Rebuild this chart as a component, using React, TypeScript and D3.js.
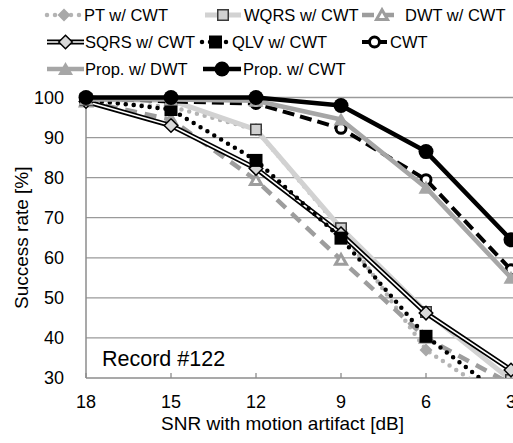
import React from "react";
import * as d3 from "d3";

// SNR levels (dB) on the x axis
const snrLevels = [18, 15, 12, 9, 6, 3];
const yTicks = [30, 40, 50, 60, 70, 80, 90, 100];

// Success rate [%] for each detector at each SNR level
const ptCwt = [99, 97.7, 92, 67, 37, 23];
const wqrsCwt = [99.5, 99.3, 92, 67.4, 46.5, 29.5];
const dwtCwt = [99, 94.5, 79.4, 59.5, 40, 28.5];
const sqrsCwt = [99, 93, 82.3, 66, 46.2, 32];
const qlvCwt = [99.5, 97, 84.3, 64.9, 40.4, 24];
const cwtOnly = [100, 99, 98.5, 92.3, 79.5, 57];
const propDwt = [99.5, 99.5, 99.2, 94.5, 77.5, 55];
const propCwt = [100, 100, 100, 98, 86.5, 64.5];

const seriesNames = [
  "PT w/ CWT",
  "WQRS w/ CWT",
  "DWT w/ CWT",
  "SQRS w/ CWT",
  "QLV w/ CWT",
  "CWT",
  "Prop. w/ DWT",
  "Prop. w/ CWT",
];
const seriesValues = [ptCwt, wqrsCwt, dwtCwt, sqrsCwt, qlvCwt, cwtOnly, propDwt, propCwt];

type Style = {
  stroke: string;
  width: number;
  dash?: string;
  cap?: "round" | "butt";
  double?: boolean;
  marker: "diamond" | "square" | "triangle" | "circle";
  size: number;
  fill: string;
  mStroke?: string;
  mWidth?: number;
};

const styles: Style[] = [
  { stroke: "#b4b4b4", width: 4.5, dash: "0 8", cap: "round", marker: "diamond", size: 13, fill: "#a8a8a8" },
  { stroke: "#d2d2d2", width: 5, marker: "square", size: 12, fill: "#d0d0d0", mStroke: "#3a3a3a", mWidth: 1.5 },
  { stroke: "#9d9d9d", width: 4.5, dash: "12 8", marker: "triangle", size: 14, fill: "#ffffff", mStroke: "#9d9d9d", mWidth: 3 },
  { stroke: "#000000", width: 5, double: true, marker: "diamond", size: 15, fill: "#d9d9d9", mStroke: "#000000", mWidth: 1.5 },
  { stroke: "#000000", width: 4.5, dash: "0 8", cap: "round", marker: "square", size: 13, fill: "#000000" },
  { stroke: "#000000", width: 4, dash: "12 6", marker: "circle", size: 13, fill: "#ffffff", mStroke: "#000000", mWidth: 3 },
  { stroke: "#a6a6a6", width: 4.5, marker: "triangle", size: 15, fill: "#a6a6a6" },
  { stroke: "#000000", width: 4.5, marker: "circle", size: 15, fill: "#000000" },
];

// legend entries: [line start x, line end x, text x, row y]
const legendSlots: [number, number, number, number][] = [
  [47, 81, 84, 15], [205, 241, 244, 15], [362, 402, 405, 15],
  [47, 84, 85, 42], [202, 229, 232, 42], [362, 387, 390, 42],
  [47, 84, 85, 69], [203, 241, 243, 69],
];

const FONT = "Liberation Sans, Arial, sans-serif";

const plot = { left: 86, right: 511, top: 97.5, bottom: 378 };
const x = d3.scaleLinear().domain([18, 3]).range([plot.left, plot.right]);
const y = d3.scaleLinear().domain([30, 100]).range([plot.bottom, plot.top]);

function markerPath(kind: Style["marker"], s: number): string {
  const h = s / 2;
  if (kind === "diamond") return `M0,${-h}L${h},0L0,${h}L${-h},0Z`;
  if (kind === "square") return `M${-h},${-h}H${h}V${h}H${-h}Z`;
  return `M0,${-h * 0.95}L${h},${h * 0.8}L${-h},${h * 0.8}Z`;
}

function Marker({ st, cx, cy }: { st: Style; cx: number; cy: number }) {
  if (st.marker === "circle") {
    return (
      <circle cx={cx} cy={cy} r={st.size / 2 - (st.mWidth ? st.mWidth / 2 : 0)} fill={st.fill}
        stroke={st.mStroke ?? "none"} strokeWidth={st.mWidth ?? 0} />
    );
  }
  const inset = st.mWidth ? st.mWidth / 2 : 0;
  return (
    <path d={markerPath(st.marker, st.size - inset * 2)} transform={`translate(${cx},${cy})`}
      fill={st.fill} stroke={st.mStroke ?? "none"} strokeWidth={st.mWidth ?? 0} strokeLinejoin="miter" />
  );
}

function SeriesLine({ st, d }: { st: Style; d: string }) {
  return (
    <g fill="none" strokeLinejoin="round">
      <path d={d} stroke={st.stroke} strokeWidth={st.width} strokeDasharray={st.dash}
        strokeLinecap={st.cap ?? "butt"} />
      {st.double && <path d={d} stroke="#ffffff" strokeWidth={1.6} />}
    </g>
  );
}

export default function App() {
  const line = d3.line<number>().x((_, i) => x(snrLevels[i])).y((v) => y(v));

  return (
    <svg width={513} height={443} style={{ position: "absolute", left: 0, top: 0 }}
      fontFamily={FONT}>
      <defs>
        <clipPath id="plotClip">
          <rect x={0} y={0} width={513} height={plot.bottom} />
        </clipPath>
      </defs>
      <rect width={513} height={443} fill="#ffffff" />

      {/* horizontal gridlines */}
      {yTicks.slice(1).map((t) => (
        <line key={t} x1={plot.left} x2={513} y1={y(t)} y2={y(t)} stroke="#9a9a9a" strokeWidth={1.3} />
      ))}

      {/* axes */}
      <line x1={plot.left} x2={plot.left} y1={plot.top} y2={plot.bottom} stroke="#8c8c8c" strokeWidth={1.5} />
      <line x1={plot.left} x2={513} y1={plot.bottom} y2={plot.bottom} stroke="#8c8c8c" strokeWidth={1.5} />
      {snrLevels.map((s) => (
        <line key={s} x1={x(s)} x2={x(s)} y1={plot.bottom - 5} y2={plot.bottom} stroke="#8c8c8c" strokeWidth={1.3} />
      ))}

      {/* y tick labels */}
      {yTicks.map((t) => (
        <text key={t} x={64} y={y(t)} dy="0.36em" textAnchor="end" fontSize={18} fill="#000">{t}</text>
      ))}
      {/* x tick labels */}
      {snrLevels.map((s) => (
        <text key={s} x={x(s)} y={408} textAnchor="middle" fontSize={18} fill="#000">{s}</text>
      ))}

      <text x={(plot.left + plot.right) / 2 - 16} y={430} textAnchor="middle" fontSize={19}>
        SNR with motion artifact [dB]
      </text>
      <text transform={`translate(28,${(plot.top + plot.bottom) / 2}) rotate(-90)`} textAnchor="middle" fontSize={19}>
        Success rate [%]
      </text>

      <text x={102} y={366} fontSize={21.5}>Record #122</text>

      {/* series */}
      <g clipPath="url(#plotClip)">
        {seriesValues.map((vals, si) => {
          const st = styles[si];
          return (
            <g key={si}>
              <SeriesLine st={st} d={line(vals) ?? ""} />
              {vals.map((v, i) => (
                <Marker key={i} st={st} cx={x(snrLevels[i])} cy={y(v)} />
              ))}
            </g>
          );
        })}
      </g>

      {/* legend */}
      {seriesNames.map((name, si) => {
        const st = styles[si];
        const [x0, x1, tx, ly] = legendSlots[si];
        return (
          <g key={name}>
            <SeriesLine st={st} d={`M${x0},${ly}H${x1}`} />
            <Marker st={st} cx={(x0 + x1) / 2} cy={ly} />
            <text x={tx} y={ly} dy="0.36em" fontSize={16.5}>{name}</text>
          </g>
        );
      })}
    </svg>
  );
}
